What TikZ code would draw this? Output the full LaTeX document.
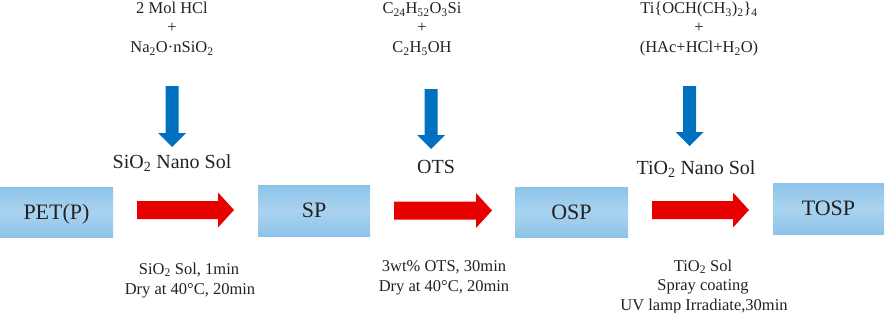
\documentclass[tikz,border=0pt]{standalone}
\usepackage{fontspec}
\setmainfont{LiberationSerif}[Extension=.ttf, UprightFont=*-Regular, BoldFont=*-Bold, ItalicFont=*-Italic, BoldItalicFont=*-BoldItalic]
\usetikzlibrary{calc}
\definecolor{boxedge}{HTML}{8DC3E9}
\definecolor{boxmid}{HTML}{AAD3EF}
\definecolor{bluearr}{HTML}{0070C0}
\definecolor{redarr}{HTML}{E60000}
\definecolor{ink}{HTML}{222222}
\newcommand\rightblock[2]{%
  \fill[redarr] ($(#1)+(0,-9)$) -- ($(#2)+(-16,-9)$) -- ($(#2)+(-16,-17.5)$) -- (#2)
    -- ($(#2)+(-16,17.5)$) -- ($(#2)+(-16,9)$) -- ($(#1)+(0,9)$) -- cycle;}
\newcommand\downblock[2]{%
  \fill[bluearr] ($(#1)+(-6.5,0)$) -- ($(#2)+(-6.5,-14)$) -- ($(#2)+(-14,-14)$) -- (#2)
    -- ($(#2)+(14,-14)$) -- ($(#2)+(6.5,-14)$) -- ($(#1)+(6.5,0)$) -- cycle;}
\begin{document}
\begin{tikzpicture}[x=1pt,y=-1pt,
  stagebox/.style={draw=none, top color=boxedge, bottom color=boxedge, middle color=boxmid,
    inner sep=0pt, font=\fontsize{22}{22}\selectfont, text=ink, text height=14.5pt, text depth=0pt},
  lbl/.style={inner sep=0pt, anchor=base, font=\fontsize{16.5}{16.5}\selectfont, text=ink},
  biglbl/.style={inner sep=0pt, anchor=base, font=\fontsize{20}{20}\selectfont, text=ink}]
\useasboundingbox (0,0) rectangle (886,313);
% stage boxes
\node[stagebox, minimum width=113pt, minimum height=50pt] (pet) at (56.5,212) {PET(P)};
\node[stagebox, minimum width=112pt, minimum height=51pt] (sp) at (314,210.5) {SP};
\node[stagebox, minimum width=113pt, minimum height=50pt] (osp) at (571.5,212) {OSP};
\node[stagebox, minimum width=111pt, minimum height=51pt] (tosp) at (828.5,208.5) {TOSP};
% red arrows
\coordinate (r1s) at (137,210); \coordinate (r1e) at (234,210);
\coordinate (r2s) at (394,210.5); \coordinate (r2e) at (492,210.5);
\coordinate (r3s) at (652,210); \coordinate (r3e) at (749,210);
\rightblock{r1s}{r1e}
\rightblock{r2s}{r2e}
\rightblock{r3s}{r3e}
% blue arrows
\coordinate (b1s) at (172,86); \coordinate (b1e) at (172,147);
\coordinate (b2s) at (431,89); \coordinate (b2e) at (431,149);
\coordinate (b3s) at (689.5,86); \coordinate (b3e) at (689.5,146);
\downblock{b1s}{b1e}
\downblock{b2s}{b2e}
\downblock{b3s}{b3e}
% top reagents
\node[lbl] (a1) at (172,13.5) {2 Mol HCl};
\node[lbl] (a2) at (172,33) {+};
\node[lbl] (a3) at (172,52.5) {Na\textsubscript{2}O·nSiO\textsubscript{2}};
\node[lbl] (c1) at (422,13.5) {C\textsubscript{24}H\textsubscript{52}O\textsubscript{3}Si};
\node[lbl] (c2) at (422,33) {+};
\node[lbl] (c3) at (422,52.5) {C\textsubscript{2}H\textsubscript{5}OH};
\node[lbl] (e1) at (699,13.5) {Ti\{OCH(CH\textsubscript{3})\textsubscript{2}\}\textsubscript{4}};
\node[lbl] (e2) at (699,33) {+};
\node[lbl] (e3) at (699,52.5) {(HAc+HCl+H\textsubscript{2}O)};
% products of reagents
\node[biglbl] (s1) at (172,168.5) {SiO\textsubscript{2} Nano Sol};
\node[biglbl] (s2) at (436,173.5) {OTS};
\node[biglbl] (s3) at (696,174.5) {TiO\textsubscript{2} Nano Sol};
% process conditions
\node[lbl] (p1) at (189,274) {SiO\textsubscript{2} Sol, 1min};
\node[lbl] (p2) at (190,294) {Dry at 40°C, 20min};
\node[lbl] (q1) at (444,271) {3wt\% OTS, 30min};
\node[lbl] (q2) at (444,291) {Dry at 40°C, 20min};
\node[lbl] (u1) at (703,271) {TiO\textsubscript{2} Sol};
\node[lbl] (u2) at (703,290.5) {Spray coating};
\node[lbl] (u3) at (704,310) {UV lamp Irradiate,30min};
\end{tikzpicture}
\end{document}
